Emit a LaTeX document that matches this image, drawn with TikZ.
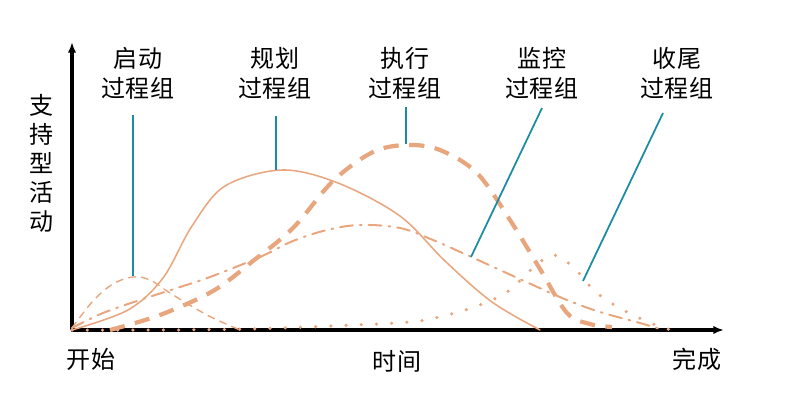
\documentclass[tikz,border=0pt]{standalone}
\usepackage{fontspec}
\usepackage{xcolor}
\setmainfont{Noto Sans CJK SC}
\usetikzlibrary{arrows.meta}

\definecolor{peach}{RGB}{232,166,126}
\definecolor{leader}{RGB}{28,140,162}

\tikzset{
  axis/.style={line width=2.6pt, -{Latex[length=9pt,width=7pt]}},
  lbl/.style={font=\fontsize{20.5}{25.6}\selectfont, align=center, inner sep=0pt},
  pointer/.style={draw=leader, line width=1.5pt},
  curve/.style={draw=peach, line cap=round}
}

\begin{document}
\begin{tikzpicture}[x=0.03cm, y=-0.03cm]
  % Page frame with the same margins as the reference
  \useasboundingbox (0,0) rectangle (799,408);

  % Axes
  \coordinate (origin) at (72,330);
  \coordinate (ytop) at (72,42);
  \coordinate (xend) at (724,330);
  \draw[axis] (origin) -- (ytop);
  \draw[axis] ([xshift=-1.2pt]origin) -- (xend);

  % Axis texts
  \node[lbl, font=\fontsize{20.5}{24.8}\selectfont] (support) at (42,163) {支\\持\\型\\活\\动};
  \node[lbl] (start) at (91,359) {开始};
  \node[lbl] (time) at (397,361) {时间};
  \node[lbl] (finish) at (697,359) {完成};

  % Process group labels
  \node[lbl] (initiating) at (138,73) {启动\\过程组};
  \node[lbl] (planning) at (275,73) {规划\\过程组};
  \node[lbl] (executing) at (405,73) {执行\\过程组};
  \node[lbl] (monitoring) at (542,73) {监控\\过程组};
  \node[lbl] (closing) at (677,73) {收尾\\过程组};

  % Initiating: thin dashed
  \draw[curve, line width=1.2pt, dash pattern=on 6pt off 5pt]
    plot[smooth, tension=0.6] coordinates {(72,328) (93,301) (113,284) (133,277) (150,280) (170,293) (193,307) (213,318) (240,330)};

  % Planning: thin solid
  \draw[curve, line width=1.3pt]
    plot[smooth, tension=0.55] coordinates {(72,330) (128,310) (163,278) (192,226) (225,186) (282,170) (338,183) (400,216) (445,261) (492,302) (540,330)};

  % Executing: thick dashed
  \draw[curve, line width=3.6pt, dash pattern=on 13pt off 9pt, line cap=butt]
    plot[smooth, tension=0.55] coordinates {(110,330) (160,315) (213,291) (253,261) (293,228) (333,181) (373,152) (407,145) (440,150) (477,173) (510,220) (540,269) (567,313) (590,324) (612,327)};

  % Monitoring: dash dot
  \draw[curve, line width=1.7pt, dash pattern=on 11pt off 6pt on 1.5pt off 6pt]
    plot[smooth, tension=0.6] coordinates {(72,328) (103,313) (140,300) (177,288) (210,277) (260,257) (293,241) (327,230) (360,225) (400,228) (433,240) (467,255) (500,270) (533,285) (567,300) (600,312) (640,323) (660,329)};

  % Closing: dotted
  \draw[curve, line width=3pt, dash pattern=on 0pt off 13pt]
    plot[smooth, tension=0.6] coordinates {(72,330) (160,330) (250,329) (330,326) (410,322) (443,316) (477,306) (507,292) (533,268) (553,255) (573,267) (597,293) (627,312) (658,326) (672,330)};

  % Pointer ends on the curves
  \coordinate (initiating-top) at (133,115);
  \coordinate (initiating-peak) at (133,276);
  \coordinate (planning-top) at (276,116);
  \coordinate (planning-peak) at (276,170);
  \coordinate (executing-top) at (406,107);
  \coordinate (executing-peak) at (406,144);
  \coordinate (monitoring-top) at (542,108);
  \coordinate (monitoring-end) at (471,257);
  \coordinate (closing-top) at (663,113);
  \coordinate (closing-end) at (583,281);

  % Pointers
  \draw[pointer] (initiating-top) -- (initiating-peak);
  \draw[pointer] (planning-top) -- (planning-peak);
  \draw[pointer] (executing-top) -- (executing-peak);
  \draw[pointer] (monitoring-top) -- (monitoring-end);
  \draw[pointer] (closing-top) -- (closing-end);
\end{tikzpicture}
\end{document}
